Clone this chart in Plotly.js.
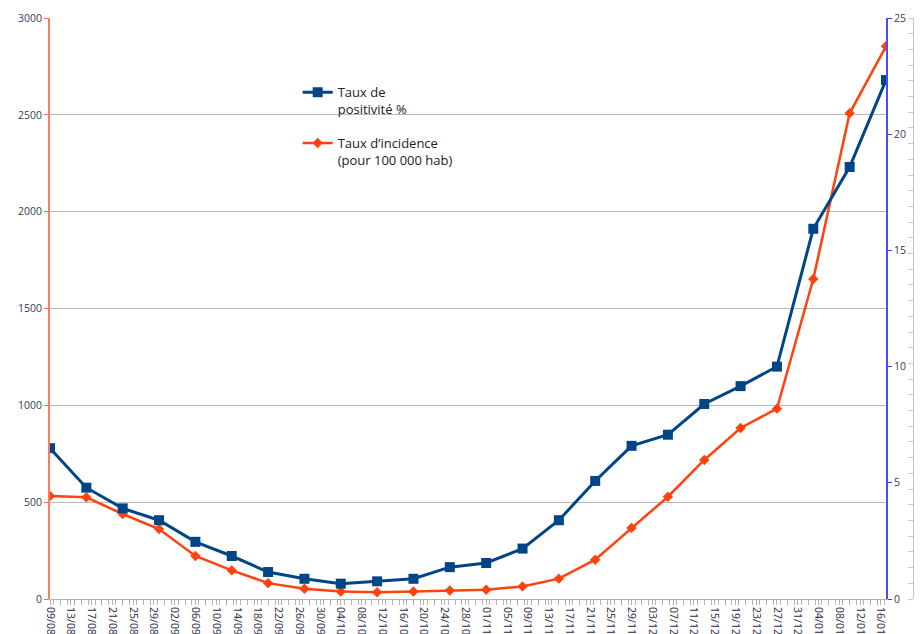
<!DOCTYPE html>
<html>
<head>
<meta charset="utf-8">
<script src="https://cdn.plot.ly/plotly-3.0.1.min.js"></script>
<style>html,body{margin:0;padding:0;background:#fff;}#chart{width:920px;height:634px;}</style>
</head>
<body>
<div id="chart"></div>
<script>
// Weekly dates (x values)
const dates = ["2020-08-09","2020-08-16","2020-08-23","2020-08-30","2020-09-06","2020-09-13",
  "2020-09-20","2020-09-27","2020-10-04","2020-10-11","2020-10-18","2020-10-25",
  "2020-11-01","2020-11-08","2020-11-15","2020-11-22","2020-11-29","2020-12-06",
  "2020-12-13","2020-12-20","2020-12-27","2021-01-03","2021-01-10","2021-01-17"];
// Taux de positivité (%) - right axis
const positivite = [6.49, 4.79, 3.90, 3.39, 2.46, 1.85, 1.16, 0.87, 0.66, 0.76, 0.87, 1.37,
  1.55, 2.17, 3.39, 5.08, 6.59, 7.07, 8.39, 9.16, 10.0, 15.93, 18.59, 22.33];
// Taux d'incidence (pour 100 000 hab) - left axis
const incidence = [532, 525, 439, 361, 222, 148, 82, 53, 39, 35, 39, 44,
  48, 65, 105, 203, 367, 528, 718, 883, 983, 1652, 2508, 2854];
const seriesNames = ["Taux de<br>positivité %", "Taux d’incidence<br>(pour 100 000 hab)"];
const leftTicks = [0, 500, 1000, 1500, 2000, 2500, 3000];
const rightTicks = [0, 5, 10, 15, 20, 25];

const DAY = 86400000;
const tickFont = {family: "Open Sans, DejaVu Sans, sans-serif", size: 10.5, color: "#3a3a5a"};

const traces = [
  {x: dates, y: positivite, name: seriesNames[0], legendgroup: "a", yaxis: "y2", type: "scatter", mode: "lines+markers",
   line: {color: "#004586", width: 3}, marker: {symbol: "square", size: 10, color: "#004586"}},
  {x: dates, y: incidence, name: seriesNames[1], legendgroup: "b", yaxis: "y", type: "scatter", mode: "lines+markers",
   line: {color: "#ff420e", width: 2.5}, marker: {symbol: "diamond", size: 8, color: "#ff420e"}},
  {x: [dates[0]], y: [0], yaxis: "y3", type: "scatter", mode: "markers", showlegend: false,
   hoverinfo: "skip", marker: {opacity: 0}}
];

const layout = {
  width: 920, height: 634,
  margin: {l: 50, r: 7, t: 18, b: 35},
  paper_bgcolor: "#ffffff", plot_bgcolor: "#ffffff",
  font: {family: "Open Sans, DejaVu Sans, sans-serif", color: "#222"},
  showlegend: true,
  legend: {x: 0.287, y: 0.898, xanchor: "left", yanchor: "top", bgcolor: "rgba(0,0,0,0)",
    font: {size: 13, color: "#222"}, valign: "top", tracegroupgap: 14},
  xaxis: {
    type: "date", domain: [0, 0.9687],
    range: ["2020-08-09", "2021-01-17"],
    tick0: "2020-08-09", dtick: 4 * DAY, tickformat: "%d/%m", tickangle: 90,
    tickfont: {family: "Open Sans, DejaVu Sans, sans-serif", size: 10.5, color: "#2a2a40"},
    ticks: "outside", ticklen: 5, tickcolor: "#b3b3b3",
    minor: {dtick: 4 * DAY / 3, ticks: "outside", ticklen: 5, tickcolor: "#b3b3b3", showgrid: false},
    showline: true, linecolor: "#b3b3b3", linewidth: 1, showgrid: false, zeroline: false
  },
  yaxis: {
    range: [0, 3000], tickvals: leftTicks, ticktext: leftTicks.map(String),
    tickfont: tickFont, ticks: "outside", ticklen: 4, tickcolor: "#ff6a48",
    showline: true, linecolor: "#ff7a5c", linewidth: 2,
    showgrid: true, gridcolor: "#b8b8b8", gridwidth: 1, zeroline: false
  },
  yaxis2: {
    range: [0, 25], overlaying: "y", side: "right", anchor: "x",
    tickvals: rightTicks, ticktext: rightTicks.map(String),
    tickfont: tickFont, ticks: "outside", ticklen: 4, tickcolor: "#3b3bff",
    showline: true, linecolor: "#4a4aff", linewidth: 2, showgrid: false, zeroline: false
  },
  yaxis3: {
    range: [0, 37], overlaying: "y", anchor: "free", position: 1, side: "left",
    dtick: 1, showticklabels: false, ticks: "outside", ticklen: 5, tickcolor: "#c8c8c8",
    showline: true, linecolor: "#c8c8c8", linewidth: 1, showgrid: false, zeroline: false
  }
};

Plotly.newPlot("chart", traces, layout, {displayModeBar: false, staticPlot: true});
</script>
</body>
</html>
